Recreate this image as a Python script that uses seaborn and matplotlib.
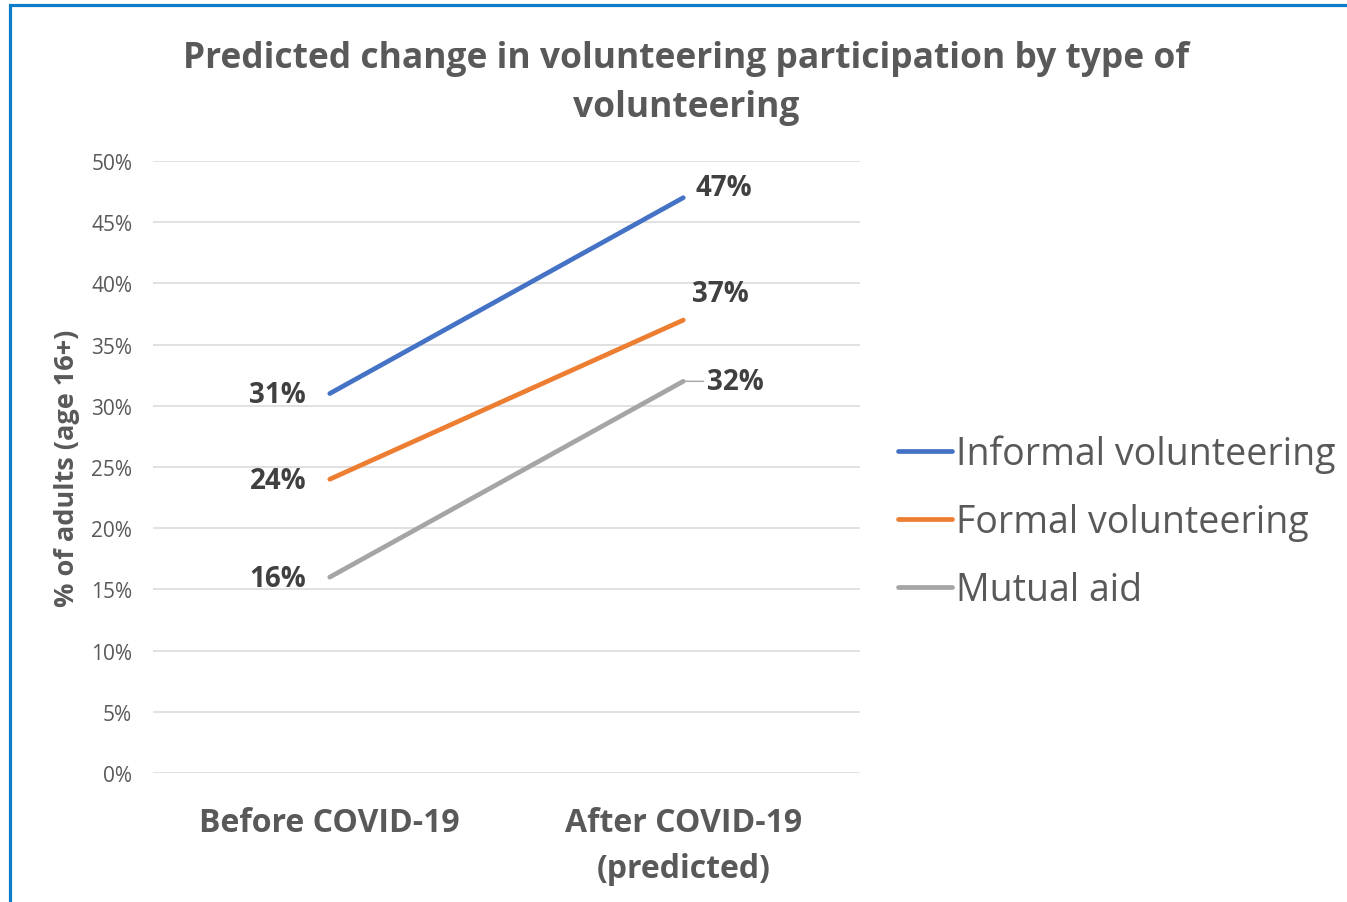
import matplotlib
matplotlib.use("Agg")
import matplotlib.pyplot as plt
import matplotlib.patches as mpatches
import seaborn as sns
import pandas as pd

# Data
periods = ["Before COVID-19", "After COVID-19\n(predicted)"]
series_names = ["Informal volunteering", "Formal volunteering", "Mutual aid"]
informal = [31, 47]
formal = [24, 37]
mutual = [16, 32]
y_ticks = [0, 5, 10, 15, 20, 25, 30, 35, 40, 45, 50]

colors = ["#4472C4", "#ED7D31", "#A5A5A5"]
text_grey = "#595959"
dark = "#404040"

# Long-form frame for seaborn
df = pd.DataFrame({
    "period": periods * 3,
    "series": [n for n in series_names for _ in periods],
    "value": informal + formal + mutual,
})

sns.set_theme(style="white")
plt.rcParams["font.family"] = ["Open Sans", "DejaVu Sans"]

fig = plt.figure(figsize=(13.47, 9.03), dpi=100)
ax = fig.add_axes([153 / 1347, 1 - 774 / 903, 707 / 1347, 612 / 903])

sns.lineplot(data=df, x="period", y="value", hue="series", palette=colors,
             linewidth=3.4, ax=ax, sort=False)

ax.set_xlim(-0.5, 1.5)
ax.set_ylim(0, 50)
ax.set_yticks(y_ticks)
ax.set_yticklabels([f"{t}%" for t in y_ticks], color=text_grey, fontsize=15)
ax.tick_params(axis="y", length=0, pad=15)
ax.tick_params(axis="x", length=0, pad=24, labelsize=23, labelcolor=text_grey)
for lbl in ax.get_xticklabels():
    lbl.set_fontweight("bold")
    lbl.set_linespacing(1.5)
ax.grid(axis="y", color="#D9D9D9", linewidth=1.1)
ax.set_axisbelow(True)
sns.despine(ax=ax, left=True, bottom=True)
ax.set_xlabel("")
ax.set_ylabel("% of adults (age 16+)", fontsize=19.5, fontweight="bold",
              color=text_grey, labelpad=8)

# Data labels
label_kws = dict(fontsize=20, fontweight="bold", color=dark, textcoords="offset points")
for vals in (informal, formal, mutual):
    ax.annotate(f"{vals[0]}%", xy=(0, vals[0]), xytext=(-17, -1),
                ha="right", va="center", **label_kws)
ax.annotate(f"{informal[1]}%", xy=(1, informal[1]), xytext=(9, 7),
            ha="left", va="center", **label_kws)
ax.annotate(f"{formal[1]}%", xy=(1, formal[1]), xytext=(6, 19),
            ha="left", va="center", **label_kws)
ax.annotate(f"{mutual[1]}%", xy=(1, mutual[1]), xytext=(17, 0),
            ha="left", va="center",
            arrowprops=dict(arrowstyle="-", color="#A5A5A5", lw=1,
                            shrinkA=0, shrinkB=0),
            **label_kws)

# Legend outside on the right
handles, labels = ax.get_legend_handles_labels()
ax.legend(handles, labels, loc="center left",
          bbox_to_anchor=(898 / 1347, 1 - 523 / 903), bbox_transform=fig.transFigure,
          frameon=False, fontsize=27, labelcolor=text_grey,
          handlelength=1.45, handletextpad=0.1, labelspacing=0.8,
          borderaxespad=0, borderpad=0)

# Title
fig.text(686 / 1347, 1 - 41 / 903,
         "Predicted change in volunteering participation by type of\nvolunteering",
         ha="center", va="top", fontsize=25.5, fontweight="bold", color=text_grey,
         linespacing=1.5)

# Blue frame around the chart (runs off the right and bottom edges)
fig.patches.append(mpatches.Rectangle((10 / 1347, -0.1), 1.2, 1 - 5.5 / 903 + 0.1,
                                      transform=fig.transFigure, fill=False,
                                      edgecolor="#0B7DCB", linewidth=2.3))

fig.savefig("out.png", dpi=100)
